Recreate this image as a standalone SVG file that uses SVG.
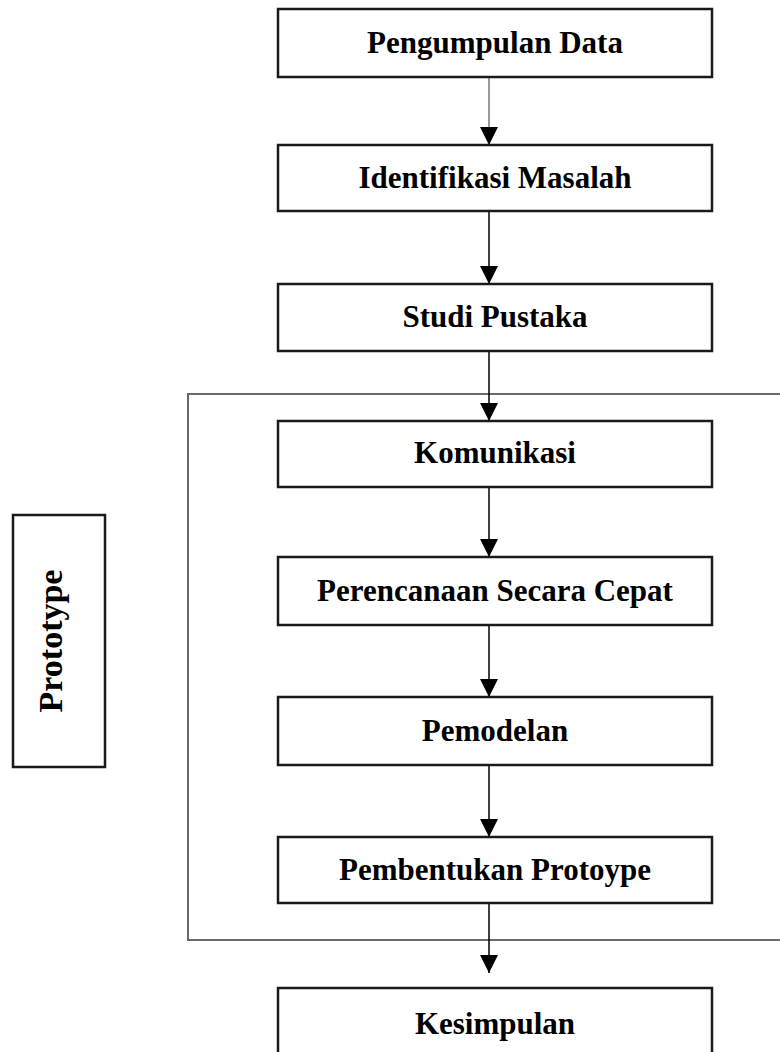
<svg xmlns="http://www.w3.org/2000/svg" width="780" height="1052" viewBox="0 0 780 1052">
<defs>
<style>
.box{fill:#fff;stroke:#1a1a1a;stroke-width:2.5}
.lbl{font-family:"Liberation Serif","Times New Roman",serif;font-weight:bold;font-size:31px;fill:#000;text-anchor:middle}
.con{stroke:#000;stroke-width:1.5;fill:none;marker-end:url(#ah)}
</style>
<marker id="ah" markerUnits="userSpaceOnUse" markerWidth="18" markerHeight="18" refX="18" refY="9" orient="auto" viewBox="0 0 18 18">
<path d="M0,0 L18,9 L0,18 Z" fill="#000"/>
</marker>
</defs>
<rect id="container" x="188" y="394" width="620" height="546" fill="none" stroke="#6a6a6a" stroke-width="2"/>
<g id="connectors">
<path class="con" d="M489,77 V145" style="stroke:#777"/>
<path class="con" d="M489,211 V284"/>
<path class="con" d="M489,351 V421"/>
<path class="con" d="M489,487 V557"/>
<path class="con" d="M489,625 V697"/>
<path class="con" d="M489,765 V837"/>
<path class="con" d="M489,903 V973"/>
</g>
<g id="n1"><rect class="box" x="278" y="9" width="434" height="68"/><text class="lbl" x="495" y="53">Pengumpulan Data</text></g>
<g id="n2"><rect class="box" x="278" y="145" width="434" height="66"/><text class="lbl" x="495" y="188">Identifikasi Masalah</text></g>
<g id="n3"><rect class="box" x="278" y="284" width="434" height="67"/><text class="lbl" x="495" y="327">Studi Pustaka</text></g>
<g id="n4"><rect class="box" x="278" y="421" width="434" height="66"/><text class="lbl" x="495" y="463">Komunikasi</text></g>
<g id="n5"><rect class="box" x="278" y="557" width="434" height="68"/><text class="lbl" x="495" y="601">Perencanaan Secara Cepat</text></g>
<g id="n6"><rect class="box" x="278" y="697" width="434" height="68"/><text class="lbl" x="495" y="741">Pemodelan</text></g>
<g id="n7"><rect class="box" x="278" y="837" width="434" height="66"/><text class="lbl" x="495" y="880">Pembentukan Protoype</text></g>
<g id="n8"><rect class="box" x="278" y="988" width="434" height="80"/><text class="lbl" x="495" y="1034">Kesimpulan</text></g>
<g id="prototype"><rect class="box" x="13" y="515" width="92" height="252"/><text class="lbl" style="font-size:34px" transform="translate(62,641) rotate(-90)" x="0" y="0">Prototype</text></g>
</svg>
